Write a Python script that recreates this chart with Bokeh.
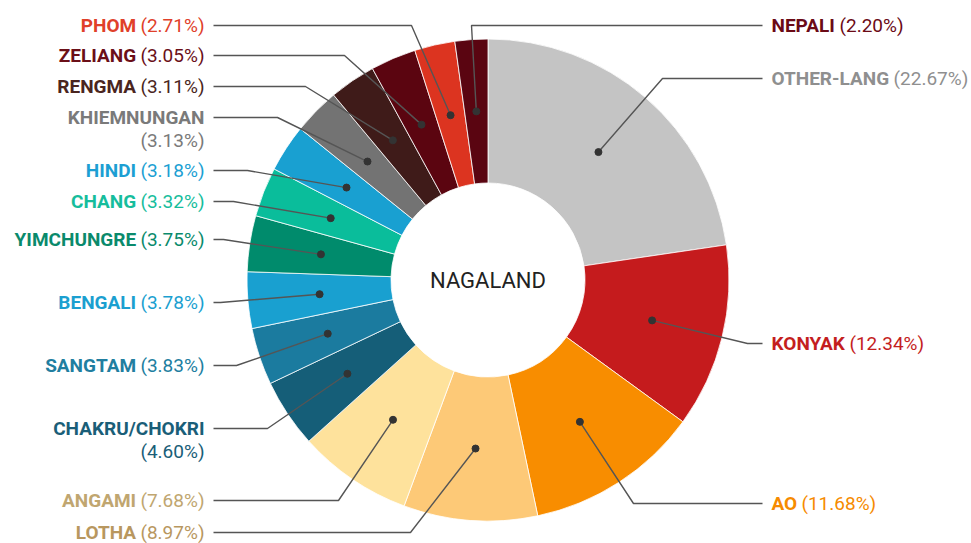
import math
from bokeh.plotting import figure
from bokeh.models import Range1d, ColumnDataSource
from bokeh.embed import file_html
from bokeh.resources import INLINE
from bokeh.core.properties import value

# ---------------- data ----------------
title = "NAGALAND"
languages = ["OTHER-LANG", "KONYAK", "AO", "LOTHA", "ANGAMI", "CHAKRU/CHOKRI",
             "SANGTAM", "BENGALI", "YIMCHUNGRE", "CHANG", "HINDI", "KHIEMNUNGAN",
             "RENGMA", "ZELIANG", "PHOM", "NEPALI"]
shares = [22.67, 12.34, 11.68, 8.97, 7.68, 4.60, 3.83, 3.78, 3.75, 3.32,
          3.18, 3.13, 3.11, 3.05, 2.71, 2.20]

# ---------------- styles ----------------
slice_colors = ["#c4c4c4", "#c51b1d", "#f88d00", "#fdc977", "#fee29c", "#155e78",
                "#1b7b9f", "#19a0d0", "#008b6c", "#0abd9b", "#19a0d1", "#737373",
                "#3f1b19", "#5b0510", "#dc3420", "#5a0511"]
text_colors = ["#8f8f8f", "#c41e1e", "#f68b00", "#b8975f", "#c0a670", "#1a5e78",
               "#217ea0", "#1b9fd0", "#0a8a6c", "#16bd9c", "#1c9fd3", "#7a7a7a",
               "#4a2520", "#6b0f18", "#e0402a", "#6b0a16"]

# ---------------- layout (page pixel coordinates) ----------------
W, H = 971, 543
CX, CY = 487.5, 279.5
R_OUT, R_IN = 241, 97
R_DOT = (R_OUT + R_IN) / 2
FS = 19
right_side = {"OTHER-LANG", "KONYAK", "AO", "NEPALI"}
two_line = {"KHIEMNUNGAN", "CHAKRU/CHOKRI"}
label_y = {"OTHER-LANG": 78, "KONYAK": 343, "AO": 503, "LOTHA": 532,
           "ANGAMI": 500, "CHAKRU/CHOKRI": 428, "SANGTAM": 365, "BENGALI": 302,
           "YIMCHUNGRE": 239, "CHANG": 201, "HINDI": 170, "KHIEMNUNGAN": 117,
           "RENGMA": 86, "ZELIANG": 55, "PHOM": 25, "NEPALI": 25}
elbow_x = {"OTHER-LANG": 662, "KONYAK": 747, "AO": 633, "LOTHA": 410,
           "ANGAMI": 338, "CHAKRU/CHOKRI": 267, "SANGTAM": 236, "BENGALI": 220,
           "YIMCHUNGRE": 223, "CHANG": 233, "HINDI": 247, "KHIEMNUNGAN": 277,
           "RENGMA": 305, "ZELIANG": 344, "PHOM": 411, "NEPALI": 471}
LEFT_TEXT_X, LEFT_LINE_X = 204, 213
RIGHT_TEXT_X, RIGHT_LINE_X = 771, 762

REG = {c: 0.5615 for c in "0123456789"}
REG.update({"(": 0.341, ")": 0.347, ".": 0.263, "%": 0.715, " ": 0.248})
BOLD = {"A": 0.652, "B": 0.628, "C": 0.643, "D": 0.630, "E": 0.544, "F": 0.533,
        "G": 0.700, "H": 0.695, "I": 0.286, "J": 0.545, "K": 0.618, "L": 0.523,
        "M": 0.861, "N": 0.693, "O": 0.675, "P": 0.630, "R": 0.640, "S": 0.600,
        "T": 0.605, "U": 0.640, "Y": 0.595, "-": 0.45, "/": 0.42, " ": 0.248}


def tw(s, table):
    return sum(table.get(c, 0.6) for c in s) * FS


def Y(py):
    return H - py


p = figure(width=W, height=H, x_range=Range1d(0, W), y_range=Range1d(0, H),
           output_backend="svg", toolbar_location=None, x_axis_location=None,
           y_axis_location=None, min_border=0)
p.grid.visible = False
p.outline_line_color = None
p.background_fill_color = "white"
p.border_fill_color = "white"

total = sum(shares)
starts, ends, dot_x, dot_y = [], [], [], []
cum = 0.0
for s in shares:
    c0, c1 = cum / total, (cum + s) / total
    starts.append(math.pi / 2 - 2 * math.pi * c1)
    ends.append(math.pi / 2 - 2 * math.pi * c0)
    mid = math.pi / 2 - 2 * math.pi * (c0 + c1) / 2
    dot_x.append(CX + R_DOT * math.cos(mid))
    dot_y.append(Y(CY) + R_DOT * math.sin(mid))
    cum += s

wsrc = ColumnDataSource(dict(start=starts, end=ends, color=slice_colors))
p.annular_wedge(x=CX, y=Y(CY), inner_radius=R_IN, outer_radius=R_OUT,
                start_angle="start", end_angle="end", direction="anticlock",
                fill_color="color", line_color="white", line_width=0.8, source=wsrc)

xs, ys = [], []
nx, ny, nt, nc, na = [], [], [], [], []
px, py_, pt, pc, pa = [], [], [], [], []
for i, name in enumerate(languages):
    ly = label_y[name]
    pct = "(%.2f%%)" % shares[i]
    if name in right_side:
        xs.append([dot_x[i], elbow_x[name], RIGHT_LINE_X])
        nx.append(RIGHT_TEXT_X); ny.append(Y(ly)); nt.append(name); nc.append(text_colors[i]); na.append("left")
        px.append(RIGHT_TEXT_X + tw(name, BOLD) + tw(" ", REG)); py_.append(Y(ly))
        pt.append(pct); pc.append(text_colors[i]); pa.append("left")
    else:
        xs.append([dot_x[i], elbow_x[name], LEFT_LINE_X])
        if name in two_line:
            nx.append(LEFT_TEXT_X); ny.append(Y(ly))
            px.append(LEFT_TEXT_X); py_.append(Y(ly + 23))
        else:
            nx.append(LEFT_TEXT_X - tw(pct, REG) - tw(" ", REG)); ny.append(Y(ly))
            px.append(LEFT_TEXT_X); py_.append(Y(ly))
        nt.append(name); nc.append(text_colors[i]); na.append("right")
        pt.append(pct); pc.append(text_colors[i]); pa.append("right")
    ys.append([dot_y[i], Y(ly), Y(ly)])

p.multi_line(xs=xs, ys=ys, line_color="#555555", line_width=1.4)
p.scatter(x=dot_x, y=dot_y, size=7, color="#333333")

p.text(x="x", y="y", text="t", text_color="c", text_align="a", text_baseline="middle",
       text_font=value("Roboto"), text_font_style="bold", text_font_size="%dpx" % FS,
       source=ColumnDataSource(dict(x=nx, y=ny, t=nt, c=nc, a=na)))
p.text(x="x", y="y", text="t", text_color="c", text_align="a", text_baseline="middle",
       text_font=value("Roboto"), text_font_style="normal", text_font_size="%dpx" % FS,
       source=ColumnDataSource(dict(x=px, y=py_, t=pt, c=pc, a=pa)))

p.text(x=[CX], y=[Y(CY)], text=[title], text_align="center", text_baseline="middle",
       text_font=value("Roboto"), text_font_size="22px", text_color="#222222")

open("out.html", "w").write(file_html(p, INLINE))
